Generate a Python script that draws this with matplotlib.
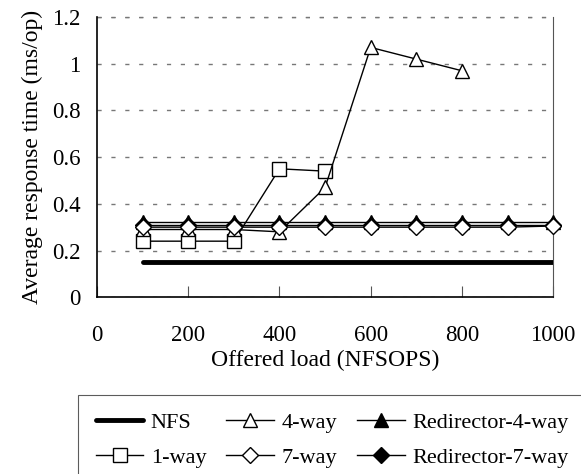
import matplotlib
matplotlib.use('Agg')
import matplotlib.pyplot as plt

plt.rcParams['font.family'] = ['Liberation Serif', 'DejaVu Serif']

loads = [100, 200, 300, 400, 500, 600, 700, 800, 900, 1000]

nfs = [0.15] * 10
one_way = [0.24, 0.24, 0.24, 0.55, 0.54]
four_way = [0.29, 0.29, 0.29, 0.28, 0.47, 1.07, 1.02, 0.97]
seven_way = [0.30, 0.30, 0.30, 0.30, 0.30, 0.30, 0.30, 0.30, 0.30, 0.305]
redir_four = [0.32, 0.32, 0.32, 0.32, 0.32, 0.32, 0.32, 0.32, 0.32, 0.32]
redir_seven = [0.31, 0.31, 0.31, 0.31, 0.31, 0.31, 0.31, 0.31, 0.31, 0.31]

x_ticks = [0, 200, 400, 600, 800, 1000]
y_ticks = [0, 0.2, 0.4, 0.6, 0.8, 1.0, 1.2]
y_labels = ['0', '0.2', '0.4', '0.6', '0.8', '1', '1.2']


def main():
    fig = plt.figure(figsize=(5.81, 4.74), dpi=100)
    ax = fig.add_axes([0.167, 0.373, 0.785, 0.591])

    common = dict(color='black', linewidth=1.0, markersize=10, markeredgewidth=1.0, clip_on=False)
    h_nfs, = ax.plot(loads, nfs, color='black', linewidth=3.5, solid_capstyle='round',
                     label='NFS', zorder=3)
    h_one, = ax.plot(loads[:len(one_way)], one_way, marker='s', markerfacecolor='white',
                     label='1-way', zorder=4, **common)
    h_four, = ax.plot(loads[:len(four_way)], four_way, marker='^', markerfacecolor='white',
                      label='4-way', zorder=5, **common)
    h_r4, = ax.plot(loads, redir_four, marker='^', markerfacecolor='black',
                    label='Redirector-4-way', zorder=6, **common)
    h_r7, = ax.plot(loads, redir_seven, marker='D', markerfacecolor='black',
                    label='Redirector-7-way', zorder=7, **dict(common, markersize=8))
    h_seven, = ax.plot(loads, seven_way, marker='D', markerfacecolor='white',
                       label='7-way', zorder=8, **dict(common, markersize=8))

    ax.set_xlim(0, 1000)
    ax.set_ylim(0, 1.2)
    ax.set_xticks(x_ticks)
    ax.set_yticks(y_ticks)
    ax.set_yticklabels(y_labels)
    ax.tick_params(axis='x', direction='in', length=8, width=0.8, color='#555555',
                   pad=20, labelsize=16.5)
    ax.tick_params(axis='y', length=0, pad=12, labelsize=16.5)

    ax.yaxis.grid(True, color='#777777', linewidth=1.0, linestyle=(0, (3, 7)))
    ax.set_axisbelow(True)
    ax.spines['top'].set_visible(False)
    ax.spines['right'].set_color('#555555')
    ax.spines['left'].set_linewidth(1.2)
    ax.spines['bottom'].set_linewidth(1.2)
    # dashed grid line along the top of the plot area (1.2)
    ax.axhline(1.2, color='#777777', linewidth=1.0, linestyle=(0, (3, 7)), clip_on=False)

    ax.set_xlabel('Offered load (NFSOPS)', fontsize=17, labelpad=3)
    ax.set_ylabel('Average response time (ms/op)', fontsize=17, labelpad=6)

    handles = [h_nfs, h_one, h_four, h_seven, h_r4, h_r7]
    leg = fig.legend(handles=handles, ncol=3, loc='upper left', bbox_to_anchor=(0.134, 0.167),
                     fontsize=16, frameon=True, fancybox=False, edgecolor='#333333',
                     handlelength=2.15, columnspacing=0.9, handletextpad=0.33,
                     borderpad=0.8, labelspacing=0.62, borderaxespad=0)
    leg.get_frame().set_linewidth(0.8)

    fig.savefig('out.png', dpi=100)


if __name__ == '__main__':
    main()
